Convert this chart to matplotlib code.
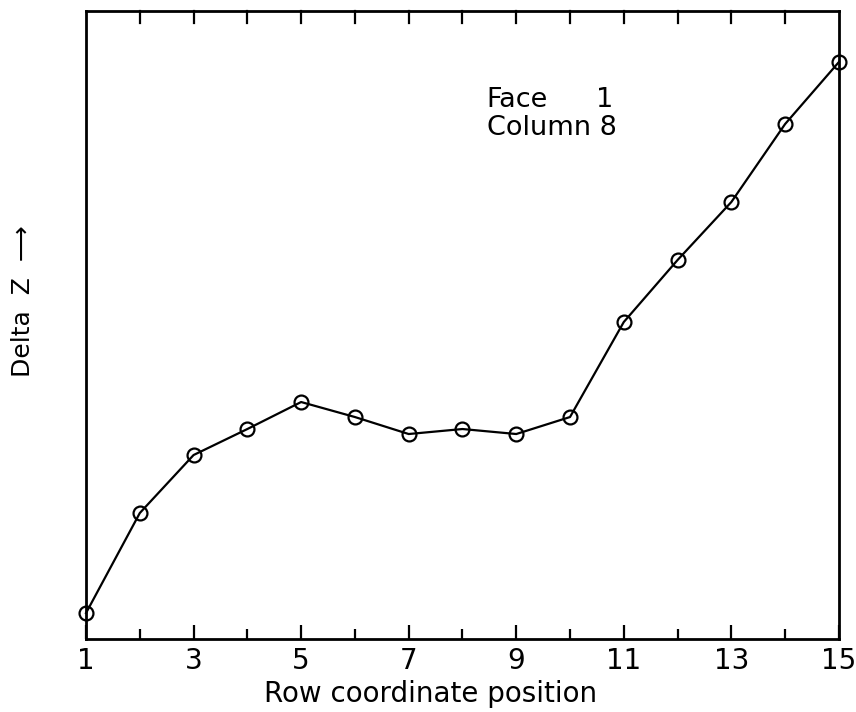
import numpy as np
import matplotlib.pyplot as plt

# row positions and measured delta Z (arbitrary units, no y scale on the original)
rows = [1, 2, 3, 4, 5, 6, 7, 8, 9, 10, 11, 12, 13, 14, 15]
delta_z = [26, 126, 184, 210, 237, 222, 205, 210, 205, 222, 317, 379, 437, 515, 577]
xticks_major = [1, 3, 5, 7, 9, 11, 13, 15]

fig = plt.figure(figsize=(8.56, 7.12), dpi=100)
ax = fig.add_axes([0.1005, 0.1025, 0.8795, 0.882])

ax.plot(rows, delta_z, color='black', lw=1.6, marker='o', ms=10,
        mfc='none', mec='black', mew=1.6, clip_on=False, zorder=3)

ax.set_xlim(1, 15)
ax.set_ylim(0, 628)
ax.set_xticks(xticks_major)
ax.set_xticks(rows, minor=True)
ax.set_yticks([])
ax.tick_params(axis='x', which='major', direction='in', length=10, width=1.6,
               top=False, labelsize=20, pad=6)
ax.tick_params(axis='x', which='minor', direction='in', length=7, width=1.6,
               top=False)
# top edge has small ticks at every row
for r in rows[1:-1]:
    ax.plot([r, r], [628, 628 - 12], color='black', lw=1.6, clip_on=False)

for s in ax.spines.values():
    s.set_linewidth(2)

fig.text(0.5035, 0.014, 'Row coordinate position', fontsize=20,
         ha='center', va='baseline')
fig.text(0.027, 0.577, 'Delta  Z  \u27f6', rotation=90, fontsize=18,
         ha='center', va='center')

ax.text(0.532, 0.847, 'Face', transform=ax.transAxes, fontsize=19.5)
ax.text(0.700, 0.847, '1', transform=ax.transAxes, fontsize=19.5, ha='right')
ax.text(0.532, 0.803, 'Column 8', transform=ax.transAxes, fontsize=19.5)

fig.savefig('out.png', dpi=100)
